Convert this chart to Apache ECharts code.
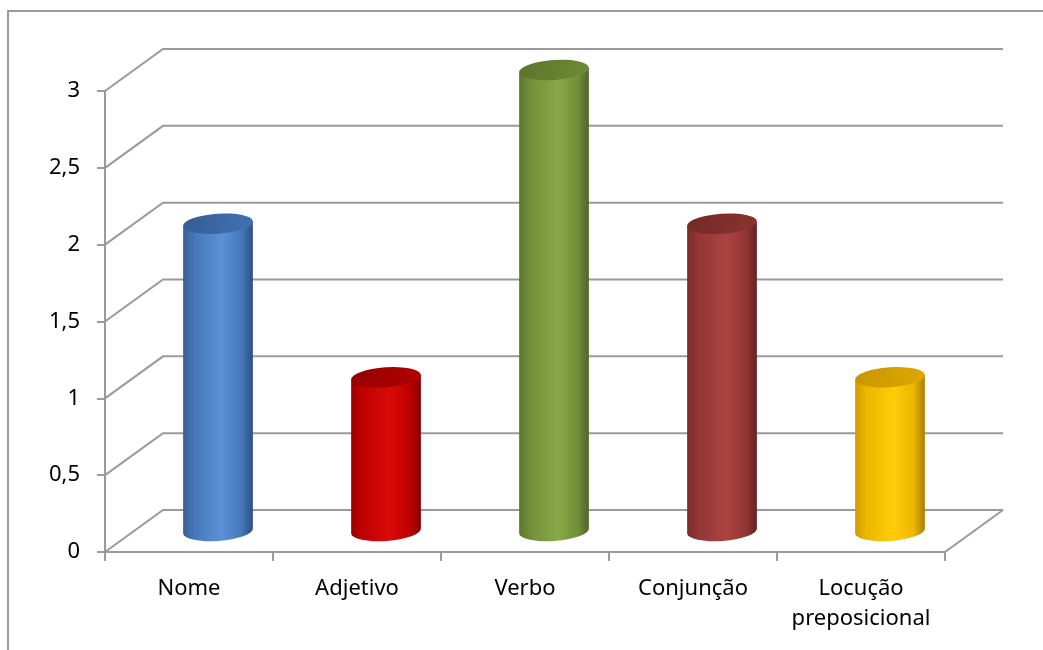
<!DOCTYPE html>
<html>
<head>
<meta charset="utf-8">
<script src="https://cdn.jsdelivr.net/npm/echarts@6/dist/echarts.min.js"></script>
<style>
  html, body { margin: 0; padding: 0; background: #fff; }
  #chart { width: 1043px; height: 650px; }
</style>
</head>
<body>
<div id="chart"></div>
<script>
// Word classes and their counts
const categories = ['Nome', 'Adjetivo', 'Verbo', 'Conjunção', 'Locução preposicional'];
const counts = [2, 1, 3, 2, 1];
const yTicks = [0, 0.5, 1, 1.5, 2, 2.5, 3];

// Cylinder shading per bar: left edge, body, highlight, right edge, top face
const shades = [
  { left: '#375E94', body: '#4677BA', light: '#5C91D7', right: '#2C4F80', top: ['#355C92', '#4273B4'] },
  { left: '#9E0000', body: '#BE0000', light: '#DA0A0A', right: '#870000', top: ['#940000', '#B20000'] },
  { left: '#5E762C', body: '#718F38', light: '#89A94A', right: '#506428', top: ['#5C732B', '#6F8C36'] },
  { left: '#792C2A', body: '#933634', light: '#AA4341', right: '#652321', top: ['#722A28', '#8A3331'] },
  { left: '#D09C00', body: '#EDB600', light: '#FFCC0A', right: '#A87E00', top: ['#C89500', '#DFA800'] }
];

// Oblique depth of the 3D box, in pixels
const DX = 58, DY = -42;
const GRID = '#9A9A9A';
const FONT = 'Noto Sans';

const chart = echarts.init(document.getElementById('chart'), null, { renderer: 'canvas' });

function ellipsePoint(cx, cy, rx, ang, rot) {
  // point at parametric angle 'ang' (0 = right end) of an ellipse tilted by 'rot'
  return [cx + rx * Math.cos(ang) * Math.cos(rot), cy + rx * Math.cos(ang) * Math.sin(rot)];
}

const option = {
  backgroundColor: '#ffffff',
  animation: false,
  graphic: [{
    type: 'rect',
    shape: { x: 8, y: 11, width: 1100, height: 700 },
    style: { fill: 'none', stroke: '#9A9A9A', lineWidth: 2 },
    silent: true
  }],
  grid: { left: 105, right: 98, top: 91, bottom: 98 },
  xAxis: {
    type: 'category',
    data: categories,
    axisLine: { lineStyle: { color: GRID, width: 2 } },
    axisTick: { show: true, length: 9, lineStyle: { color: GRID, width: 2 } },
    axisLabel: {
      color: '#000', fontFamily: FONT, fontSize: 22, margin: 22, lineHeight: 30,
      interval: 0,
      formatter: v => v.replace(' ', '\n')
    },
    splitLine: { show: false }
  },
  yAxis: {
    type: 'value',
    min: 0, max: 3, interval: 0.5,
    axisLine: { show: true, lineStyle: { color: GRID, width: 2 } },
    axisTick: { show: true, length: 8, lineStyle: { color: GRID, width: 2 } },
    axisLabel: {
      color: '#000', fontFamily: FONT, fontSize: 22, margin: 25,
      formatter: v => String(v).replace('.', ',')
    },
    splitLine: { show: false }
  },
  series: [
    {
      // back wall gridlines, side-wall diagonals and the floor's right edge
      type: 'custom',
      silent: true,
      z: 1,
      data: yTicks.map(v => [0, v]),
      encode: { x: 0, y: 1 },
      renderItem(params, api) {
        const cs = params.coordSys;
        const v = api.value(1);
        const y = api.coord([0, v])[1];
        const x0 = cs.x, x1 = cs.x + cs.width;
        const children = [{
          type: 'polyline',
          shape: { points: [[x0, y], [x0 + DX, y + DY], [x1 + DX, y + DY]] },
          style: { fill: 'none', stroke: GRID, lineWidth: 2 }
        }];
        if (v === 0) {
          children.push({
            type: 'line',
            shape: { x1: x1, y1: y, x2: x1 + DX, y2: y + DY },
            style: { stroke: GRID, lineWidth: 2 }
          });
        }
        return { type: 'group', children };
      }
    },
    {
      // cylinders standing halfway into the depth of the box
      type: 'custom',
      z: 2,
      data: counts.map((v, i) => [i, v]),
      encode: { x: 0, y: 1 },
      renderItem(params, api) {
        const i = api.value(0), v = api.value(1);
        const topPt = api.coord([i, v]);
        const basePt = api.coord([i, 0]);
        const band = api.size([1, 0])[0];
        const rx = band * 0.208;
        const ry = 10;
        const rot = -0.07;
        const rotDeg = rot * 180 / Math.PI;
        const cx = topPt[0] + DX / 2;
        const ty = topPt[1] + DY / 2;
        const by = basePt[1] + DY / 2;
        const s = shades[i % shades.length];

        const tl = ellipsePoint(cx, ty, rx, Math.PI, rot);
        const tr = ellipsePoint(cx, ty, rx, 0, rot);
        const bl = ellipsePoint(cx, by, rx, Math.PI, rot);
        const br = ellipsePoint(cx, by, rx, 0, rot);

        const bodyPath =
          'M' + tl[0] + ' ' + tl[1] +
          ' L' + bl[0] + ' ' + bl[1] +
          ' A' + rx + ' ' + ry + ' ' + rotDeg + ' 0 0 ' + br[0] + ' ' + br[1] +
          ' L' + tr[0] + ' ' + tr[1] + ' Z';
        const topPath =
          'M' + tl[0] + ' ' + tl[1] +
          ' A' + rx + ' ' + ry + ' ' + rotDeg + ' 0 1 ' + tr[0] + ' ' + tr[1] +
          ' A' + rx + ' ' + ry + ' ' + rotDeg + ' 0 1 ' + tl[0] + ' ' + tl[1] + ' Z';

        const bodyFill = new echarts.graphic.LinearGradient(0, 0, 1, 0, [
          { offset: 0, color: s.left },
          { offset: 0.16, color: s.body },
          { offset: 0.55, color: s.light },
          { offset: 0.84, color: s.body },
          { offset: 1, color: s.right }
        ]);
        const topFill = new echarts.graphic.LinearGradient(0, 0, 1, 1, [
          { offset: 0, color: s.top[0] },
          { offset: 1, color: s.top[1] }
        ]);

        return {
          type: 'group',
          children: [
            { type: 'path', shape: { pathData: bodyPath }, style: { fill: bodyFill } },
            { type: 'path', shape: { pathData: topPath }, style: { fill: topFill } }
          ]
        };
      }
    }
  ]
};

chart.setOption(option);
</script>
</body>
</html>
